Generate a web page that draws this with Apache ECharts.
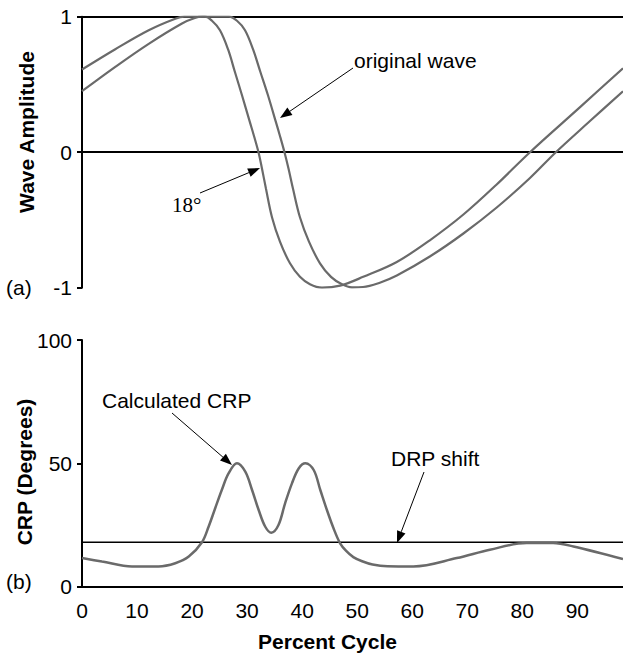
<!DOCTYPE html>
<html>
<head>
<meta charset="utf-8">
<script src="https://cdn.jsdelivr.net/npm/echarts@6/dist/echarts.min.js"></script>
<style>
html,body{margin:0;padding:0;background:#fff;}
#chart{width:623px;height:654px;}
</style>
</head>
<body>
<div id="chart"></div>
<script>
// ---- data (x in percent of cycle) ----
const xTickValues = [0, 10, 20, 30, 40, 50, 60, 70, 80, 90];
const xMax = 98.3;

const shiftedPct = [0, 6.05, 12.12, 16.95, 18.6, 22.35, 23.62, 25.07, 26.53, 27.8, 29.07, 30.52, 31.25, 32.07, 32.7, 33.43, 34.52, 35.97, 37.79, 39.6, 41.42, 43.6, 46.9, 51.1, 57.2, 63.2, 69.3, 75.3, 81.4, 90.7, 98.3];
const shiftedAmp = [0.61, 0.76, 0.90, 0.985, 1.0, 1.0, 0.97, 0.90, 0.76, 0.59, 0.42, 0.22, 0.12, 0, -0.12, -0.27, -0.48, -0.66, -0.82, -0.92, -0.975, -1.0, -0.985, -0.92, -0.81, -0.65, -0.46, -0.24, 0, 0.34, 0.62];

const originalPct = [0, 6.05, 12.12, 18.17, 20.5, 21.8, 26.71, 28.16, 29.62, 31.07, 32.43, 33.79, 35.25, 35.97, 36.79, 37.52, 38.34, 39.6, 41.24, 43.24, 45.24, 47.24, 49.05, 51.05, 54.0, 57.2, 63.2, 69.3, 75.3, 81.4, 86.1, 92.3, 98.3];
const originalAmp = [0.45, 0.63, 0.80, 0.95, 0.99, 1.0, 1.0, 0.97, 0.90, 0.76, 0.59, 0.42, 0.22, 0.12, 0, -0.12, -0.27, -0.48, -0.66, -0.82, -0.92, -0.975, -0.997, -0.995, -0.965, -0.91, -0.77, -0.60, -0.41, -0.19, 0, 0.23, 0.45];

const crpPct = [0, 3.63, 9.08, 13.9, 16.95, 19.4, 21.8, 23.0, 24.2, 25.4, 26.65, 28.16, 29.67, 30.9, 32.1, 33.3, 34.4, 35.7, 36.9, 38.15, 39.4, 40.6, 42.1, 43.3, 44.5, 45.7, 46.9, 48.0, 49.3, 50.9, 52.8, 55.5, 60.2, 68.1, 74.1, 80.8, 85.6, 89.3, 98.3];
const crpDeg = [11.6, 10.2, 8.2, 8.2, 9.5, 12.2, 18, 24.3, 31.8, 39.2, 46, 50, 46.6, 39.2, 31.1, 24.3, 21.9, 25, 33.8, 41.9, 48, 50, 47.3, 39.2, 31.1, 23.7, 17.6, 14.5, 12.0, 10.3, 9.0, 8.3, 8.2, 11.6, 15, 17.7, 17.7, 16.3, 11.2];

const drpShiftDeg = 18;

const ampTicks = [-1, 0, 1];
const degTicks = [0, 50, 100];

// ---- build ----
const zip = (xs, ys) => xs.map((x, i) => [x, ys[i]]);
const FONT = '"Liberation Sans", Arial, sans-serif';
const CURVE = '#6a6a6a';

const chart = echarts.init(document.getElementById('chart'), null, {renderer: 'svg'});

const baseX = {
  type: 'value', min: 0, max: xMax, interval: 10,
  axisTick: {show: false}, splitLine: {show: false},
  axisLine: {lineStyle: {color: '#000', width: 2}}
};

function arrow(x1, y1, x2, y2) {
  const L = 12, W = 4.5;
  const dx = x2 - x1, dy = y2 - y1, d = Math.hypot(dx, dy);
  const ux = dx / d, uy = dy / d;
  const bx = x2 - ux * L, by = y2 - uy * L;
  return [
    {type: 'line', shape: {x1: x1, y1: y1, x2: bx, y2: by}, style: {stroke: '#000', lineWidth: 1}, z: 10},
    {type: 'polygon', shape: {points: [[x2, y2], [bx - uy * W, by + ux * W], [bx + uy * W, by - ux * W]]}, style: {fill: '#000'}, z: 10}
  ];
}
function txt(x, y, s, opts, rot) {
  const el = {type: 'text', x: x, y: y, z: 10,
    style: Object.assign({text: s, fill: '#000', font: '21px ' + FONT, textAlign: 'left', textVerticalAlign: 'middle'}, opts || {})};
  if (rot) el.rotation = rot;
  return el;
}

const option = {
  animation: false,
  backgroundColor: '#fff',
  grid: [
    {left: 82, top: 16.7, width: 541, height: 271},
    {left: 82, top: 340, width: 541, height: 246.7}
  ],
  xAxis: [
    Object.assign({}, baseX, {gridIndex: 0, position: 'bottom', axisLabel: {show: false}}),
    Object.assign({}, baseX, {gridIndex: 0, position: 'top', axisLabel: {show: false}}),
    Object.assign({}, baseX, {gridIndex: 1, position: 'bottom',
      axisLabel: {show: true, color: '#000', fontSize: 21, fontFamily: FONT, margin: 13,
        showMaxLabel: false,
        formatter: v => (xTickValues.indexOf(Math.round(v)) >= 0 && Math.abs(v - Math.round(v)) < 1e-6) ? String(Math.round(v)) : ''}})
  ],
  yAxis: [
    {type: 'value', gridIndex: 0, min: ampTicks[0], max: ampTicks[2], interval: 1,
      axisLine: {show: true, lineStyle: {color: '#000', width: 2}},
      axisTick: {show: true, length: 5, lineStyle: {color: '#000', width: 2}},
      axisLabel: {color: '#000', fontSize: 21, fontFamily: FONT, margin: 10},
      splitLine: {show: false}},
    {type: 'value', gridIndex: 1, min: degTicks[0], max: degTicks[2], interval: 50,
      axisLine: {show: true, lineStyle: {color: '#000', width: 2}},
      axisTick: {show: true, length: 5, lineStyle: {color: '#000', width: 2}},
      axisLabel: {color: '#000', fontSize: 21, fontFamily: FONT, margin: 10},
      splitLine: {show: false}}
  ],
  series: [
    {name: 'shifted 18°', type: 'line', xAxisIndex: 0, yAxisIndex: 0, data: zip(shiftedPct, shiftedAmp),
      smooth: 0.35, symbol: 'none', lineStyle: {color: CURVE, width: 2.2}, z: 5,
      markLine: {silent: true, symbol: 'none', label: {show: false},
        lineStyle: {color: '#000', width: 1.5, type: 'solid'}, data: [{yAxis: 0}]}},
    {name: 'original wave', type: 'line', xAxisIndex: 0, yAxisIndex: 0, data: zip(originalPct, originalAmp),
      smooth: 0.35, symbol: 'none', lineStyle: {color: CURVE, width: 2.2}, z: 5},
    {name: 'DRP shift', type: 'line', xAxisIndex: 2, yAxisIndex: 1, data: [[0, drpShiftDeg], [xMax, drpShiftDeg]],
      symbol: 'none', lineStyle: {color: '#000', width: 1.5}, z: 3},
    {name: 'Calculated CRP', type: 'line', xAxisIndex: 2, yAxisIndex: 1, data: zip(crpPct, crpDeg),
      smooth: 0.35, symbol: 'none', lineStyle: {color: CURVE, width: 2.5}, z: 5}
  ],
  graphic: [
    txt(26, 132, 'Wave Amplitude', {font: 'bold 21px ' + FONT, textAlign: 'center'}, Math.PI / 2),
    txt(24, 472, 'CRP (Degrees)', {font: 'bold 21px ' + FONT, textAlign: 'center'}, Math.PI / 2),
    txt(327.5, 641, 'Percent Cycle', {font: 'bold 21px ' + FONT, textAlign: 'center'}),
    txt(6, 287, '(a)'),
    txt(6, 581, '(b)'),
    txt(354, 60, 'original wave'),
    txt(172, 205, '18°', {font: '21px "Liberation Serif", "Times New Roman", serif'}),
    txt(102, 400, 'Calculated CRP'),
    txt(391, 458, 'DRP shift'),
    ...arrow(353, 68, 280, 118),
    ...arrow(200, 193, 260, 168),
    ...arrow(172, 413, 232, 465),
    ...arrow(424, 472, 397, 543)
  ]
};

chart.setOption(option);
</script>
</body>
</html>
